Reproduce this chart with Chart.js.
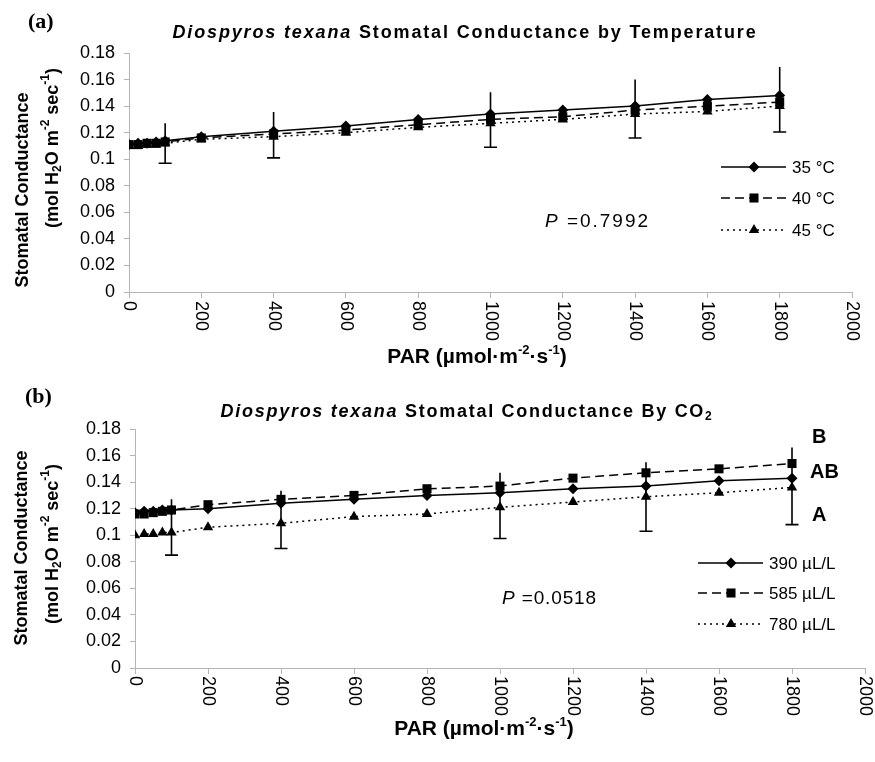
<!DOCTYPE html>
<html>
<head>
<meta charset="utf-8">
<script src="https://cdn.jsdelivr.net/npm/chart.js@4.4.1/dist/chart.umd.min.js"></script>
<style>
  body { margin: 0; background: #fff; }
  canvas { display: block; }
</style>
</head>
<body>
<canvas id="chartA" width="875" height="375"></canvas>
<canvas id="chartB" width="875" height="387"></canvas>
<script>
// PAR levels (x values) shared by all series
const parValues = [0, 25, 50, 75, 100, 200, 400, 600, 800, 1000, 1200, 1400, 1600, 1800];
const xTicks = [0, 200, 400, 600, 800, 1000, 1200, 1400, 1600, 1800, 2000];
const yTicks = [0, 0.02, 0.04, 0.06, 0.08, 0.1, 0.12, 0.14, 0.16, 0.18];

// (a) by temperature
const temp35 = [0.111, 0.112, 0.112, 0.113, 0.114, 0.117, 0.121, 0.125, 0.130, 0.134, 0.137, 0.140, 0.145, 0.148];
const temp40 = [0.111, 0.111, 0.112, 0.112, 0.113, 0.116, 0.119, 0.122, 0.126, 0.130, 0.132, 0.137, 0.140, 0.143];
const temp45 = [0.110, 0.110, 0.111, 0.111, 0.112, 0.115, 0.117, 0.120, 0.124, 0.127, 0.130, 0.134, 0.136, 0.140];
const errParA = [100, 400, 1000, 1400, 1800];
const errTopA = [0.127, 0.1355, 0.1505, 0.160, 0.1695];
const errBotA = [0.097, 0.101, 0.109, 0.116, 0.1205];

// (b) by CO2
const co2_390 = [0.117, 0.118, 0.118, 0.119, 0.119, 0.120, 0.124, 0.127, 0.130, 0.132, 0.135, 0.137, 0.141, 0.143];
const co2_585 = [0.116, 0.116, 0.117, 0.118, 0.119, 0.123, 0.127, 0.130, 0.135, 0.137, 0.143, 0.147, 0.150, 0.154];
const co2_780 = [0.100, 0.101, 0.101, 0.102, 0.102, 0.106, 0.109, 0.114, 0.116, 0.121, 0.125, 0.129, 0.132, 0.136];
const errParB = [100, 400, 1000, 1400, 1800];
const errTopB = [0.127, 0.1335, 0.147, 0.155, 0.166];
const errBotB = [0.085, 0.090, 0.0975, 0.103, 0.108];

const FONT = '"Liberation Sans", Arial, sans-serif';
const SERIF = '"Liberation Serif", "Times New Roman", serif';
const AXIS_GREY = '#b4b4b4';

// draw a run of text pieces (italics, sub/superscripts), optionally spread to a width
function drawParts(ctx, parts, x, y, align, fitWidth) {
    const hasLS = 'letterSpacing' in ctx;
    if (hasLS) ctx.letterSpacing = '0px';
    let total = 0, chars = 0;
    parts.forEach(p => { ctx.font = p.font; p.w = ctx.measureText(p.t).width; total += p.w; chars += p.t.length; });
    let ls = 0;
    if (fitWidth && hasLS) ls = (fitWidth - total) / chars;
    const full = total + ls * chars;
    let cx = align === 'center' ? x - full / 2 : x;
    ctx.textAlign = 'left';
    ctx.textBaseline = 'middle';
    parts.forEach(p => {
        ctx.font = p.font;
        if (hasLS) ctx.letterSpacing = ls + 'px';
        ctx.fillText(p.t, cx, y + (p.dy || 0));
        cx += p.w + ls * p.t.length;
    });
    if (hasLS) ctx.letterSpacing = '0px';
}

function drawMarker(ctx, style, x, y, r) {
    ctx.beginPath();
    if (style === 'rectRot') {
        ctx.moveTo(x, y - r); ctx.lineTo(x + r, y); ctx.lineTo(x, y + r); ctx.lineTo(x - r, y);
    } else if (style === 'rect') {
        const s = r * Math.SQRT1_2;
        ctx.rect(x - s, y - s, 2 * s, 2 * s);
    } else {
        const w = r * Math.sqrt(3) / 2;
        ctx.moveTo(x, y - r); ctx.lineTo(x + w, y + r / 2); ctx.lineTo(x - w, y + r / 2);
    }
    ctx.closePath();
    ctx.fill();
}

function series(label, values, style, dash, r) {
    return {
        label: label,
        data: parValues.map((x, i) => ({ x: x, y: values[i] })),
        borderColor: '#000',
        backgroundColor: '#000',
        borderWidth: 1.5,
        borderDash: dash,
        pointStyle: style,
        pointRadius: r,
        pointBorderWidth: 0,
        tension: 0
    };
}

// custom decorations: error bars, rotated x labels, titles, legend, notes
function decorPlugin(cfg) {
    return {
        id: 'decor',
        beforeDatasetsDraw(chart) {
            const ctx = chart.ctx, xs = chart.scales.x, ys = chart.scales.y;
            ctx.save();
            ctx.strokeStyle = '#000';
            ctx.lineWidth = 1.6;
            cfg.errPar.forEach((p, i) => {
                const px = xs.getPixelForValue(p);
                const top = ys.getPixelForValue(cfg.errTop[i]);
                const bot = ys.getPixelForValue(cfg.errBot[i]);
                ctx.beginPath();
                ctx.moveTo(px, top); ctx.lineTo(px, bot);
                ctx.moveTo(px - 6.5, bot); ctx.lineTo(px + 6.5, bot);
                ctx.stroke();
            });
            ctx.restore();
        },
        afterDraw(chart) {
            const ctx = chart.ctx, xs = chart.scales.x;
            ctx.save();
            ctx.fillStyle = '#000';

            // x tick labels, rotated to read downwards
            ctx.font = '18px ' + FONT;
            xTicks.forEach(v => {
                const px = xs.getPixelForValue(v);
                ctx.save();
                ctx.translate(px, xs.top + cfg.labelGap);
                ctx.rotate(Math.PI / 2);
                ctx.textAlign = 'left';
                ctx.textBaseline = 'middle';
                ctx.fillText(String(v), 0, 0);
                ctx.restore();
            });

            // panel letter
            ctx.font = 'bold 22px ' + SERIF;
            ctx.textAlign = 'left';
            ctx.textBaseline = 'middle';
            ctx.fillText(cfg.panel, cfg.panelX, cfg.panelY);

            // chart title
            drawParts(ctx, cfg.title, cfg.titleX, cfg.titleY, 'center', cfg.titleW);

            // x axis title
            const b = 'bold 21px ' + FONT, bs = 'bold 13px ' + FONT;
            drawParts(ctx, [
                { t: 'PAR (\u00b5mol\u00b7m', font: b },
                { t: '-2', font: bs, dy: -7 },
                { t: '\u00b7s', font: b },
                { t: '-1', font: bs, dy: -7 },
                { t: ')', font: b }
            ], cfg.xTitleX, cfg.xTitleY, 'center');

            // y axis title, two lines
            const yb = 'bold 18px ' + FONT, ys2 = 'bold 12px ' + FONT;
            ctx.save();
            ctx.translate(cfg.y1X, cfg.y1Y);
            ctx.rotate(-Math.PI / 2);
            drawParts(ctx, [{ t: 'Stomatal Conductance', font: yb }], 0, 0, 'center');
            ctx.restore();
            ctx.save();
            ctx.translate(cfg.y2X, cfg.y2Y);
            ctx.rotate(-Math.PI / 2);
            drawParts(ctx, [
                { t: '(mol H', font: yb },
                { t: '2', font: ys2, dy: 5 },
                { t: 'O m', font: yb },
                { t: '-2', font: ys2, dy: -7 },
                { t: ' sec', font: yb },
                { t: '-1', font: ys2, dy: -7 },
                { t: ')', font: yb }
            ], 0, 0, 'center');
            ctx.restore();

            // legend
            ctx.strokeStyle = '#000';
            ctx.lineWidth = 1.5;
            cfg.legend.forEach((item, i) => {
                const y = cfg.legendY[i];
                ctx.setLineDash(item.dash);
                ctx.beginPath();
                ctx.moveTo(cfg.legendX, y);
                ctx.lineTo(cfg.legendX + 65, y);
                ctx.stroke();
                ctx.setLineDash([]);
                drawMarker(ctx, item.style, cfg.legendX + 33, y, item.r);
                ctx.font = '17px ' + FONT;
                ctx.textAlign = 'left';
                ctx.textBaseline = 'middle';
                ctx.fillText(item.label, cfg.legendX + 71, y + 1);
            });

            // P value
            drawParts(ctx, [
                { t: 'P', font: 'italic 19px ' + FONT },
                { t: ' =' + cfg.pValue, font: '19px ' + FONT }
            ], cfg.pX, cfg.pY, 'left', cfg.pW);

            // significance letters
            ctx.font = 'bold 20px ' + FONT;
            ctx.textAlign = 'left';
            ctx.textBaseline = 'middle';
            (cfg.letters || []).forEach(l => {
                ctx.fillText(l.t, l.x, l.y);
            });
            ctx.restore();
        }
    };
}

function makeChart(id, datasets, cfg) {
    return new Chart(document.getElementById(id), {
        type: 'line',
        data: { datasets: datasets },
        options: {
            responsive: false,
            animation: false,
            layout: { padding: { top: cfg.top, right: cfg.right, left: 0, bottom: 0 } },
            plugins: { legend: { display: false }, title: { display: false }, tooltip: { enabled: false } },
            scales: {
                x: {
                    type: 'linear', min: 0, max: 2000,
                    afterBuildTicks: s => { s.ticks = xTicks.map(v => ({ value: v })); },
                    ticks: { display: false },
                    grid: { drawOnChartArea: false, tickLength: 6, color: AXIS_GREY },
                    border: { color: AXIS_GREY },
                    afterFit: s => { s.height = cfg.xHeight; }
                },
                y: {
                    type: 'linear', min: 0, max: 0.18,
                    afterBuildTicks: s => { s.ticks = yTicks.map(v => ({ value: v })); },
                    ticks: {
                        color: '#000', padding: 9,
                        font: { family: FONT, size: 18 },
                        callback: v => String(Number(v.toFixed(2)))
                    },
                    grid: { drawOnChartArea: false, tickLength: 5, color: AXIS_GREY },
                    border: { color: AXIS_GREY },
                    afterFit: s => { s.width = cfg.yWidth; }
                }
            }
        },
        plugins: [decorPlugin(cfg)]
    });
}

const tb = 'bold 18px ' + FONT, ti = 'italic bold 18px ' + FONT;

makeChart('chartA', [
    series('35 °C', temp35, 'rectRot', [], 5.5),
    series('40 °C', temp40, 'rect', [9, 5], 6.4),
    series('45 °C', temp45, 'triangle', [2, 4], 6)
], {
    top: 53, right: 23, xHeight: 83, yWidth: 129, labelGap: 9,
    errPar: errParA, errTop: errTopA, errBot: errBotA,
    panel: '(a)', panelX: 28, panelY: 22,
    title: [{ t: 'Diospyros texana', font: ti }, { t: ' Stomatal Conductance by Temperature', font: tb }],
    titleX: 465, titleY: 33, titleW: 585,
    xTitleX: 477, xTitleY: 357,
    y1X: 23, y1Y: 190, y2X: 53, y2Y: 148,
    legendX: 721, legendY: [167, 198, 230],
    legend: [
        { label: '35 °C', style: 'rectRot', dash: [], r: 5.5 },
        { label: '40 °C', style: 'rect', dash: [9, 5], r: 6.4 },
        { label: '45 °C', style: 'triangle', dash: [2, 4], r: 6 }
    ],
    pValue: '0.7992', pX: 545, pY: 222, pW: 105
});

makeChart('chartB', [
    series('390 µL/L', co2_390, 'rectRot', [], 5.5),
    series('585 µL/L', co2_585, 'rect', [9, 5], 6.4),
    series('780 µL/L', co2_780, 'triangle', [2, 4], 6)
], {
    top: 54, right: 10, xHeight: 94, yWidth: 135, labelGap: 8,
    errPar: errParB, errTop: errTopB, errBot: errBotB,
    panel: '(b)', panelX: 25, panelY: 22,
    title: [
        { t: 'Diospyros texana', font: ti },
        { t: ' Stomatal Conductance By CO', font: tb },
        { t: '2', font: 'bold 12px ' + FONT, dy: 5 }
    ],
    titleX: 467, titleY: 37, titleW: 493,
    xTitleX: 484, xTitleY: 354,
    y1X: 22, y1Y: 173, y2X: 53, y2Y: 169,
    legendX: 698, legendY: [188, 218, 249],
    legend: [
        { label: '390 \u00b5L/L', style: 'rectRot', dash: [], r: 5.5 },
        { label: '585 \u00b5L/L', style: 'rect', dash: [9, 5], r: 6.4 },
        { label: '780 \u00b5L/L', style: 'triangle', dash: [2, 4], r: 6 }
    ],
    pValue: '0.0518', pX: 502, pY: 224, pW: 95,
    letters: [
        { t: 'B', x: 812, y: 62 },
        { t: 'AB', x: 810, y: 97 },
        { t: 'A', x: 812, y: 140 }
    ]
});
</script>
</body>
</html>
